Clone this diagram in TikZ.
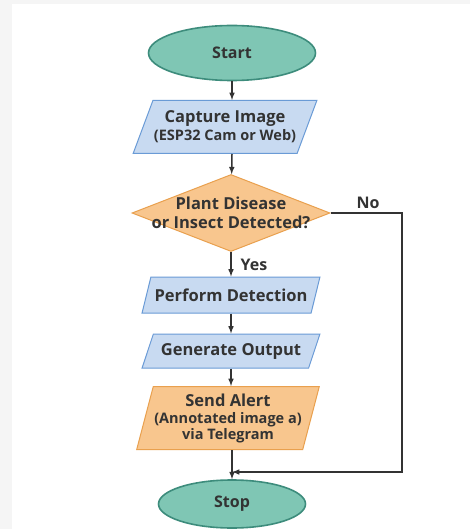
\documentclass[tikz,border=0pt]{standalone}
\usepackage{fontspec}
\setmainfont{Open Sans}
\usetikzlibrary{shapes.geometric}
\definecolor{tealfill}{HTML}{7FC6B4}
\definecolor{tealline}{HTML}{3D8C7C}
\definecolor{bluefill}{HTML}{C8DAF1}
\definecolor{blueline}{HTML}{6A9BD6}
\definecolor{orangefill}{HTML}{F8C68E}
\definecolor{orangeline}{HTML}{E9A04E}
\definecolor{inkgray}{HTML}{333333}
\newcommand{\subline}[1]{{\fontsize{14.5}{17}\selectfont #1}}
\tikzset{
  terminal/.style={ellipse, draw=tealline, fill=tealfill, line width=1.6pt, text=inkgray, font=\fontsize{16}{19}\selectfont\bfseries},
  iobox/.style={trapezium, trapezium left angle=60, trapezium right angle=120, trapezium stretches=true,
    draw=blueline, fill=bluefill, line width=1pt, text=inkgray, align=center, inner sep=1pt, font=\fontsize{16.5}{19}\selectfont\bfseries},
  decision/.style={diamond, draw=orangeline, fill=orangefill, line width=1pt, text=inkgray, align=center,
    inner sep=0pt, font=\fontsize{16.5}{20}\selectfont\bfseries},
  flowline/.style={draw=inkgray, line width=1.5pt},
  tag/.style={text=inkgray, font=\fontsize{16}{19}\selectfont\bfseries}
}
\begin{document}
\begin{tikzpicture}[x=1pt,y=1pt,>=latex]

\fill[white!96!black] (0,0) rectangle (470,-529);
\fill[white] (12,-4) rectangle (470,-529);
\useasboundingbox (0,0) rectangle (470,-529);

\node[terminal, minimum width=167pt, minimum height=55pt] (start) at (232,-53) {Start};
\node[iobox, minimum width=182pt, minimum height=53pt] (capture) at (225,-127) {Capture Image\\[-1pt]\subline{(ESP32 Cam or Web)}};
\node[decision, minimum width=198pt, minimum height=77pt] (check) at (231,-213) {\makebox[0pt]{Plant Disease}\\[-1pt]\makebox[0pt]{or Insect Detected?}};
\node[iobox, minimum width=178pt, minimum height=36pt] (detect) at (231,-295) {Perform Detection};
\node[iobox, minimum width=178pt, minimum height=34pt] (output) at (231,-351) {Generate Output};
\node[iobox, draw=orangeline, fill=orangefill, minimum width=181pt, minimum height=63pt, trapezium left angle=72, trapezium right angle=108] (alert) at (228,-418) {Send Alert\\[-2pt]\subline{(Annotated image a)}\\[-3pt]\subline{via Telegram}};
\node[terminal, minimum width=147pt, minimum height=48pt] (stop) at (232,-504) {Stop};

\coordinate (c1) at (402,-213);
\coordinate (c2) at (402,-472);
\coordinate (c3) at (232,-472);

\draw [flowline,->] (start) -- (capture.north -| start);
\draw [flowline,->] (capture.south -| start) -- (check);
\draw [flowline,->] (check) -- (detect.north -| check);
\draw [flowline,->] (detect.south -| check) -- (output.north -| check);
\draw [flowline,->] (output.south -| check) -- (alert.north -| check);
\draw [flowline,->] (alert.south -| stop) -- (stop);
\draw [flowline,->] (check.east) -- (c1) -- (c2) -- (c3);

\node[tag] (yes) at (254,-265) {Yes};
\node[tag] (no) at (368,-203) {No};
\end{tikzpicture}
\end{document}
